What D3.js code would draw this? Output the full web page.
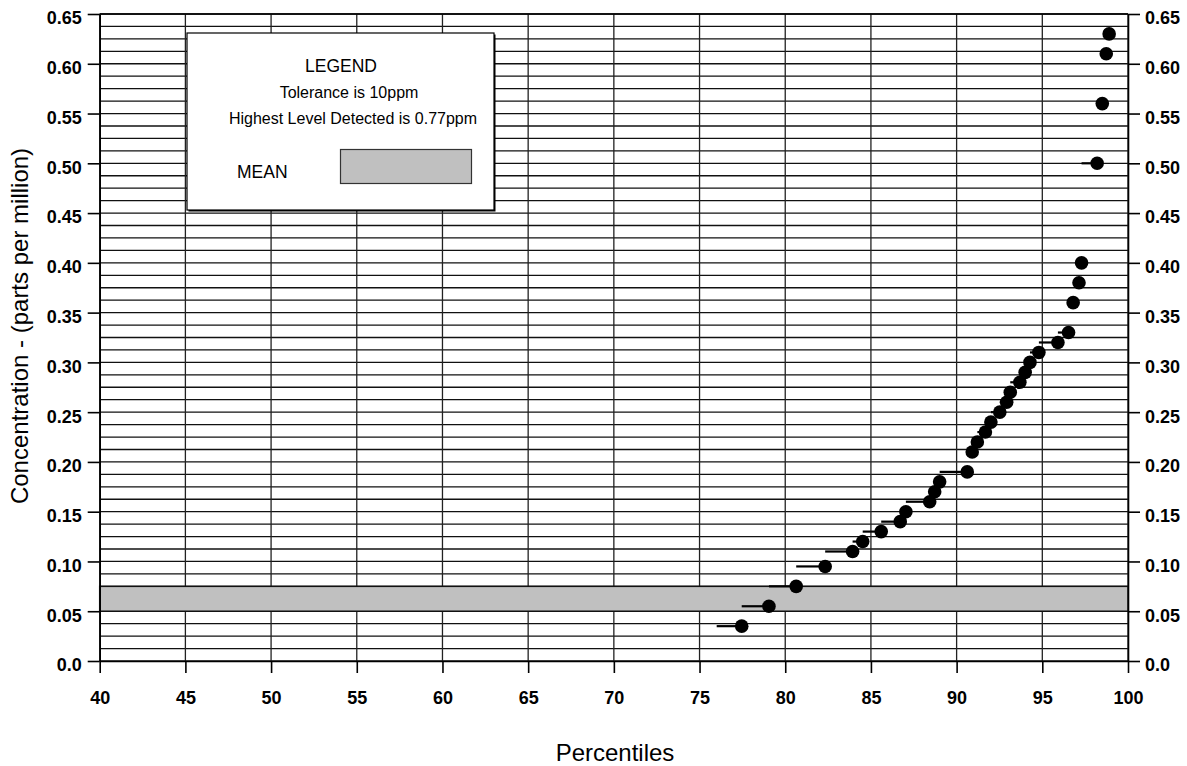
<!DOCTYPE html>
<html>
<head>
<meta charset="utf-8">
<script src="https://cdn.jsdelivr.net/npm/d3@7"></script>
<style>
  html, body { margin: 0; padding: 0; background: #fff; }
  svg { display: block; font-family: "Liberation Sans", Arial, sans-serif; }
</style>
</head>
<body>
<svg id="chart" width="1187" height="766"></svg>
<script>
// ---- data ----
const percentiles = [77.46, 79.05, 80.64, 82.33, 83.93, 84.52, 85.6, 86.71, 87.04, 88.43, 88.72, 89.01,
  90.62, 90.91, 91.21, 91.68, 92.0, 92.52, 92.92, 93.13, 93.69, 94.0, 94.28, 94.8, 95.91, 96.53,
  96.8, 97.14, 97.29, 98.2, 98.5, 98.73, 98.9];
const concentrations = [0.035, 0.055, 0.075, 0.095, 0.11, 0.12, 0.13, 0.14, 0.15, 0.16, 0.17, 0.18,
  0.19, 0.21, 0.22, 0.23, 0.24, 0.25, 0.26, 0.27, 0.28, 0.29, 0.30, 0.31, 0.32, 0.33,
  0.36, 0.38, 0.40, 0.50, 0.56, 0.61, 0.63];
const startPercentile = 76.0;          // left end of first step segment
const meanRange = [0.05, 0.075];       // shaded MEAN band
const xTicks = [40, 45, 50, 55, 60, 65, 70, 75, 80, 85, 90, 95, 100];
const yTicks = [0, 0.05, 0.10, 0.15, 0.20, 0.25, 0.30, 0.35, 0.40, 0.45, 0.50, 0.55, 0.60, 0.65];
const yTickLabels = ["0.0", "0.05", "0.10", "0.15", "0.20", "0.25", "0.30", "0.35", "0.40", "0.45", "0.50", "0.55", "0.60", "0.65"];
const yGridStep = 0.0125;
const legendLines = ["LEGEND", "Tolerance is 10ppm", "Highest Level Detected is 0.77ppm"];
const legendMeanLabel = "MEAN";
const xTitle = "Percentiles";
const yTitle = "Concentration - (parts per million)";

// ---- layout ----
const svg = d3.select("#chart");
const L = 99.7, R = 1128, T = 14, B = 661;
const x = d3.scaleLinear().domain([40, 100]).range([L, R]);
const y = d3.scaleLinear().domain([0, 0.65]).range([B, T]);

// grid
const yGrid = d3.range(0, 0.65 + 1e-9, yGridStep);
svg.append("g").selectAll("line").data(yGrid).join("line")
  .attr("x1", L).attr("x2", R)
  .attr("y1", d => y(d)).attr("y2", d => y(d))
  .attr("stroke", "#111").attr("stroke-width", 1.3);
svg.append("g").selectAll("line").data(xTicks).join("line")
  .attr("x1", d => x(d)).attr("x2", d => x(d))
  .attr("y1", T).attr("y2", B)
  .attr("stroke", "#222").attr("stroke-width", 1.3);

// mean band
svg.append("rect")
  .attr("x", x(40)).attr("width", x(100) - x(40))
  .attr("y", y(meanRange[1])).attr("height", y(meanRange[0]) - y(meanRange[1]))
  .attr("fill", "#c0c0c0").attr("stroke", "#111").attr("stroke-width", 1.5);

// axes
const yFmt = (d) => yTickLabels[yTicks.indexOf(d)];
const gl = svg.append("g").attr("transform", `translate(${L},0)`)
  .call(d3.axisLeft(y).tickValues(yTicks).tickFormat(yFmt).tickSize(12).tickSizeOuter(0).tickPadding(6));
const gr = svg.append("g").attr("transform", `translate(${R},0)`)
  .call(d3.axisRight(y).tickValues(yTicks).tickFormat(yFmt).tickSize(12).tickSizeOuter(0).tickPadding(5));
const gb = svg.append("g").attr("transform", `translate(0,${B})`)
  .call(d3.axisBottom(x).tickValues(xTicks).tickFormat(d3.format("d")).tickSize(12).tickSizeOuter(0).tickPadding(18));
[gl, gr, gb].forEach(g => {
  g.selectAll("path.domain").attr("stroke", "#000").attr("stroke-width", 1.6);
  g.selectAll(".tick line").attr("stroke", "#000").attr("stroke-width", 1.6);
  g.selectAll(".tick text").attr("font-size", 18).attr("font-weight", "bold")
    .attr("font-family", "Liberation Sans, Arial, sans-serif").attr("fill", "#000");
});
gl.selectAll(".tick text").attr("dy", "0.55em");
gr.selectAll(".tick text").attr("dy", "0.55em");
// top border
svg.append("line").attr("x1", L).attr("x2", R).attr("y1", y(0.65)).attr("y2", y(0.65))
  .attr("stroke", "#000").attr("stroke-width", 1.6);

// step segments
const prevX = percentiles.map((p, i) => i === 0 ? startPercentile : percentiles[i - 1]);
svg.append("g").selectAll("line").data(percentiles).join("line")
  .attr("x1", (d, i) => x(prevX[i])).attr("x2", d => x(d))
  .attr("y1", (d, i) => y(concentrations[i])).attr("y2", (d, i) => y(concentrations[i]))
  .attr("stroke", "#000").attr("stroke-width", 2.2);
// points
svg.append("g").selectAll("circle").data(percentiles).join("circle")
  .attr("cx", d => x(d)).attr("cy", (d, i) => y(concentrations[i]))
  .attr("r", 6.8).attr("fill", "#000");

// legend
const lg = svg.append("g");
lg.append("rect").attr("x", 188.5).attr("y", 34.5).attr("width", 307).attr("height", 177)
  .attr("fill", "#000");
lg.append("rect").attr("x", 187).attr("y", 33).attr("width", 307).attr("height", 177)
  .attr("fill", "#fff").attr("stroke", "#000").attr("stroke-width", 1.2);
lg.append("text").attr("x", 341).attr("y", 72).attr("text-anchor", "middle")
  .attr("font-size", 17.5).text(legendLines[0]);
lg.append("text").attr("x", 349).attr("y", 97.5).attr("text-anchor", "middle")
  .attr("font-size", 16).text(legendLines[1]);
lg.append("text").attr("x", 353).attr("y", 124).attr("text-anchor", "middle")
  .attr("font-size", 16).text(legendLines[2]);
lg.append("text").attr("x", 237).attr("y", 178)
  .attr("font-size", 17.5).text(legendMeanLabel);
lg.append("rect").attr("x", 340.5).attr("y", 149.5).attr("width", 131).attr("height", 34)
  .attr("fill", "#c0c0c0").attr("stroke", "#333").attr("stroke-width", 1.2);

// titles
svg.append("text").attr("x", 615).attr("y", 761).attr("text-anchor", "middle")
  .attr("font-size", 24).text(xTitle);
svg.append("text").attr("transform", `translate(28,326) rotate(-90)`)
  .attr("text-anchor", "middle").attr("font-size", 24).text(yTitle);
</script>
</body>
</html>
